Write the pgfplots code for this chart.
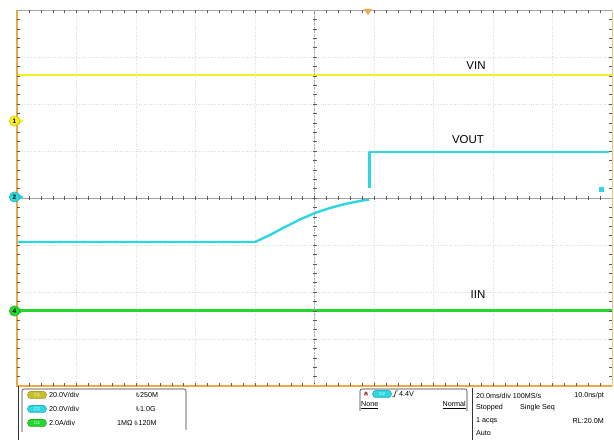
\documentclass[border=0pt]{standalone}
\usepackage{pgfplots}
\pgfplotsset{compat=1.18}
\usepackage{fontspec}
\setmainfont{Liberation Sans}
\definecolor{cy}{RGB}{45,215,225}
\definecolor{yl}{RGB}{242,242,30}
\definecolor{gr}{RGB}{35,215,45}
\definecolor{orng}{RGB}{238,168,70}
\definecolor{pillY}{RGB}{200,190,40}
\newcommand{\bw}{\raisebox{1.6pt}{\fontsize{3.5}{4}\selectfont B}\kern-2.2pt\raisebox{-0.3pt}{\fontsize{3.5}{4}\selectfont W}\kern0.6pt}
\begin{document}
\begin{tikzpicture}
\begin{axis}[scale only axis, width=595bp, height=376bp,
  xmin=-5, xmax=5, ymin=-4, ymax=4,
  axis line style={draw=none},
  xtick={-4,...,4}, ytick={-3,...,3},
  xticklabels={}, yticklabels={}, major tick length=0pt,
  grid=major, major grid style={gray!28, dotted, line width=0.6pt},
  clip=false]
\coordinate (O) at (axis cs:0,0);
\addplot[yl, line width=2.6pt] coordinates {(-5,2.617) (5,2.617)};
\addplot[cy, line width=2.4pt] coordinates {(-5,-0.936) (-1.0,-0.936) (-0.748,-0.787) (-0.496,-0.617) (-0.244,-0.457) (0.008,-0.319) (0.26,-0.213) (0.513,-0.128) (0.765,-0.064) (0.92,-0.032)};
\addplot[cy, line width=2.2pt] coordinates {(0.924,0.21) (0.924,0.98)};
\addplot[cy, line width=2.4pt] coordinates {(0.924,0.98) (4.95,0.98)};
\addplot[gr, line width=2.6pt] coordinates {(-5,-2.40) (5,-2.40)};
\addplot[only marks, mark=square*, mark size=1.8pt, cy] coordinates {(4.815,0.19)};
\end{axis}
\begin{scope}[shift={(O)}, x=1bp, y=-1bp, shift={(-314.5,-198)}]
% frame
\draw[gray!70, line width=0.5pt] (17,10) -- (612,10);
\draw[orng!70, line width=0.9pt] (612,10) -- (612,386);
\draw[orng, line width=1.3pt] (17,10) -- (17,386) -- (612,386);
% edge ticks
\foreach \i in {1,...,49} {
  \draw[gray!70!black, line width=0.4pt] ({17+\i*11.9},10) -- ++(0,3);
  \draw[gray!70!black, line width=0.4pt] ({17+\i*11.9},386) -- ++(0,-3);}
\foreach \i in {1,...,39} {
  \draw[gray!70!black, line width=0.4pt] (17,{10+\i*9.4}) -- ++(3,0);
  \draw[gray!70!black, line width=0.4pt] (612,{10+\i*9.4}) -- ++(-3,0);}
% center cross
\draw[gray!75, line width=0.4pt] (17,198) -- (612,198);
\draw[gray!60, line width=0.4pt, densely dotted] (314.5,10) -- (314.5,386);
\foreach \i in {1,...,49} {
  \draw[gray!70!black, line width=0.4pt] ({17+\i*11.9},196) -- ++(0,4);}
\foreach \i in {1,...,39} {
  \draw[gray!70!black, line width=0.4pt] (312.5,{10+\i*9.4}) -- ++(4,0);}
% trigger marker
\fill[orng] (364,9) -- (372,9) -- (368,15) -- cycle;
% channel markers
\foreach \yy/\cc/\nn in {121/yl/1, 197/cy/2, 311/gr/4} {
  \fill[\cc] (19,\yy-3) -- (23.5,\yy) -- (19,\yy+3) -- cycle;
  \node[circle, fill=\cc, draw=\cc!70!black, line width=0.3pt, inner sep=0pt, minimum size=10.5bp, font=\fontsize{6.5}{6.5}\selectfont\bfseries] at (14.5,\yy) {\nn};
}
% labels
\node[font=\fontsize{11.5}{13}\selectfont] at (476,66) {VIN};
\node[font=\fontsize{11.5}{13}\selectfont] at (468,140) {VOUT};
\node[font=\fontsize{11.5}{13}\selectfont] at (478,295) {IIN};
% bottom panel
\draw[gray!40!black, line width=0.6pt] (18,386) -- (18,440);
\draw[gray!40!black, line width=0.6pt, rounded corners=2pt] (22,432) -- (22,389) -- (186,389) -- (186,430);
\foreach \yy/\cc/\lab/\txt in {395/pillY/C1/20.0V\slash div, 409/cy/C2/20.0V\slash div, 423/gr/C4/2.0A\slash div} {
  \node[rounded corners=3.5bp, fill=\cc, draw=\cc!60!black, line width=0.3pt, minimum width=19bp, minimum height=7.5bp, inner sep=0pt, font=\fontsize{4.5}{5}\selectfont, text=white] at (37,\yy) {\lab};
  \node[anchor=west, inner sep=0pt, font=\fontsize{7.2}{8}\selectfont] at (49,\yy) {\txt};
}
\node[anchor=west, inner sep=0pt, font=\fontsize{7.2}{8}\selectfont] at (136,395) {\bw 250M};
\node[anchor=west, inner sep=0pt, font=\fontsize{7.2}{8}\selectfont] at (136,409) {\bw 1.0G};
\node[anchor=west, inner sep=0pt, font=\fontsize{7.2}{8}\selectfont] at (117,423) {1MΩ \bw 120M};
% trigger box
\draw[gray!40!black, line width=0.6pt, rounded corners=2pt] (360,411) -- (360,389) -- (467,389) -- (467,411);
\node[inner sep=0.6pt, fill=red!35, font=\fontsize{5}{5}\selectfont] at (366,394) {A};
\node[rounded corners=3.5bp, fill=cy, draw=cy!60!black, line width=0.3pt, minimum width=19bp, minimum height=7.5bp, inner sep=0pt, font=\fontsize{4.5}{5}\selectfont, text=white] at (382,394) {C2};
\draw[black, line width=0.5pt] (392,397) -- (394,397) -- (396,391) -- (398,391);
\node[anchor=west, inner sep=0pt, font=\fontsize{7.2}{8}\selectfont] at (399,394) {4.4V};
\node[anchor=west, inner sep=0pt, font=\fontsize{7.2}{8}\selectfont] at (361,405) {\underline{None}};
\node[anchor=east, inner sep=0pt, font=\fontsize{7.2}{8}\selectfont] at (466,405) {\underline{Normal}};
% right box
\draw[gray!40!black, line width=0.6pt] (472,388) -- (472,440);
\node[anchor=west, inner sep=0pt, font=\fontsize{7.2}{8}\selectfont] at (476,396) {20.0ms/div 100MS/s};
\node[anchor=east, inner sep=0pt, font=\fontsize{7.2}{8}\selectfont] at (604,396) {10.0ns/pt};
\node[anchor=west, inner sep=0pt, font=\fontsize{7.2}{8}\selectfont] at (476,408) {Stopped};
\node[anchor=west, inner sep=0pt, font=\fontsize{7.2}{8}\selectfont] at (520,408) {Single Seq};
\node[anchor=west, inner sep=0pt, font=\fontsize{7.2}{8}\selectfont] at (476,421) {1 acqs};
\node[anchor=east, inner sep=0pt, font=\fontsize{7.2}{8}\selectfont] at (604,421) {RL:20.0M};
\node[anchor=west, inner sep=0pt, font=\fontsize{7.2}{8}\selectfont] at (476,433) {Auto};
\pgfresetboundingbox
\path (0,0) rectangle (614,440);
\end{scope}
\end{tikzpicture}
\end{document}
